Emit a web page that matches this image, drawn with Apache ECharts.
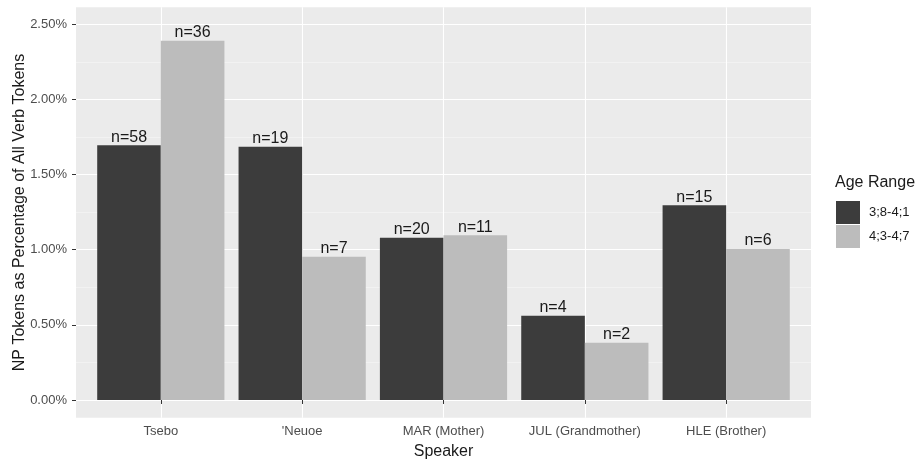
<!DOCTYPE html>
<html><head><meta charset="utf-8">
<script src="https://cdn.jsdelivr.net/npm/echarts@6/dist/echarts.min.js"></script>
<style>html,body{margin:0;padding:0;background:#fff}#c{width:919px;height:463px}</style>
</head><body><div id="c"></div>
<script>
const speakers = ["Tsebo", "'Neuoe", "MAR (Mother)", "JUL (Grandmother)", "HLE (Brother)"];
const ageRanges = ["3;8-4;1", "4;3-4;7"];
const pctYoung = [1.695, 1.685, 1.080, 0.561, 1.295];
const pctOld = [2.39, 0.953, 1.096, 0.381, 1.005];
const nYoung = [58, 19, 20, 4, 15];
const nOld = [36, 7, 11, 2, 6];
const yMajorTicks = [0, 0.5, 1.0, 1.5, 2.0, 2.5];
const yMinorTicks = [0.25, 0.75, 1.25, 1.75, 2.25];

const Y_MIN = -0.1178, Y_MAX = 2.6128;
const FONT = "Liberation Sans, Arial, sans-serif";
const xPos = speakers.map((_, i) => i + 1);

const chart = echarts.init(document.getElementById('c'), null, {renderer: 'canvas'});
const labelOpt = (ns) => ({
  show: true, position: 'top', distance: 0,
  fontFamily: FONT, fontSize: 16, color: '#1a1a1a',
  formatter: p => 'n=' + ns[p.dataIndex]
});
chart.setOption({
  animation: false,
  textStyle: {fontFamily: FONT},
  title: {
    text: 'Age Range', left: 835, top: 175, padding: 0,
    textStyle: {fontFamily: FONT, fontSize: 16, fontWeight: 'normal', color: '#1a1a1a'}
  },
  legend: {
    data: ageRanges, orient: 'vertical', left: 836, top: 201, padding: 0,
    icon: 'rect', itemWidth: 24, itemHeight: 23, itemGap: 1,
    textStyle: {fontFamily: FONT, fontSize: 13, color: '#1a1a1a', padding: [0, 0, 0, 4]}
  },
  grid: [
    {left: 76, right: 108, top: 7.3, bottom: 45.3, show: true, backgroundColor: '#EBEBEB', borderWidth: 0, outerBoundsMode: 'none', containLabel: false},
    {left: 90.14, right: 122.14, top: 7.3, bottom: 45.3, outerBoundsMode: 'none', containLabel: false}
  ],
  xAxis: [
    {type: 'value', gridIndex: 0, min: 0.4, max: 5.6,
     axisLine: {show: false}, axisLabel: {show: false},
     axisTick: {show: false, customValues: xPos},
     splitLine: {show: true, lineStyle: {color: '#ffffff', width: 1.1}}},
    {type: 'category', gridIndex: 1, data: speakers,
     name: 'Speaker', nameLocation: 'middle', nameGap: 26, nameMoveOverlap: false,
     nameTextStyle: {fontFamily: FONT, fontSize: 16, color: '#1a1a1a'},
     axisLine: {show: false},
     axisTick: {show: true, interval: 0, alignWithLabel: true, length: 4, lineStyle: {color: '#333333', width: 1}},
     axisLabel: {interval: 0, fontFamily: FONT, fontSize: 13, color: '#4D4D4D', margin: 7},
     splitLine: {show: false}}
  ],
  yAxis: [
    {type: 'value', gridIndex: 0, min: Y_MIN, max: Y_MAX,
     name: 'NP Tokens as Percentage of All Verb Tokens', nameLocation: 'middle', nameGap: 48, nameRotate: 90,
     nameMoveOverlap: false,
     nameTextStyle: {fontFamily: FONT, fontSize: 16, color: '#1a1a1a'},
     axisLine: {show: false},
     axisTick: {show: true, length: 4, customValues: yMajorTicks, lineStyle: {color: '#333333', width: 1}},
     axisLabel: {customValues: yMajorTicks, fontFamily: FONT, fontSize: 13, color: '#4D4D4D', margin: 9,
                 formatter: v => v.toFixed(2) + '%'},
     splitLine: {show: true, lineStyle: {color: '#ffffff', width: 1.1}}},
    {type: 'value', gridIndex: 0, min: Y_MIN, max: Y_MAX,
     axisLine: {show: false}, axisLabel: {show: false},
     axisTick: {show: false, customValues: yMinorTicks},
     splitLine: {show: true, lineStyle: {color: '#F7F7F7', width: 0.6}}},
    {type: 'value', gridIndex: 1, min: Y_MIN, max: Y_MAX, show: false,
     splitLine: {show: false}}
  ],
  series: [
    {name: ageRanges[0], type: 'bar', xAxisIndex: 1, yAxisIndex: 2, data: pctYoung,
     barGap: '0%', barCategoryGap: '10%', itemStyle: {color: '#3C3C3C'}, label: labelOpt(nYoung)},
    {name: ageRanges[1], type: 'bar', xAxisIndex: 1, yAxisIndex: 2, data: pctOld,
     barGap: '0%', barCategoryGap: '10%', itemStyle: {color: '#BCBCBC'}, label: labelOpt(nOld)}
  ]
});
</script></body></html>
